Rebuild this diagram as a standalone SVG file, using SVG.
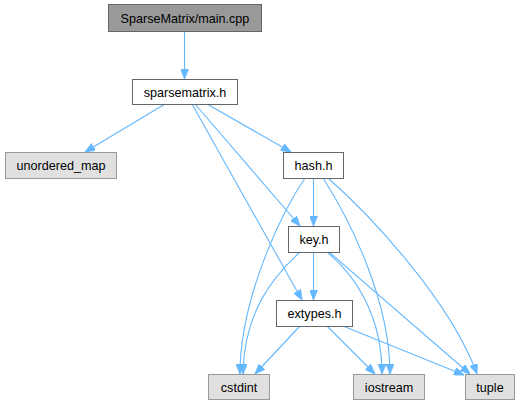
<svg xmlns="http://www.w3.org/2000/svg" width="520" height="405" viewBox="0 0 520 405">
<style>
.n rect{fill:#fff;stroke:#666;stroke-width:1}
.n.main rect{fill:#999;stroke:#666}
.n.ext rect{fill:#e0e0e0;stroke:#999}
.n text{font-family:"Liberation Sans",Arial,sans-serif;font-size:12.6px;fill:#000;text-anchor:middle}
.e path{fill:none;stroke:#63b8ff;stroke-width:1.1}
</style>
<defs>
<marker id="a" viewBox="0 0 10 8" refX="10" refY="4" markerWidth="10" markerHeight="8" markerUnits="userSpaceOnUse" orient="auto">
<path d="M0,0 L10,4 L0,8 Z" fill="#63b8ff" stroke="#63b8ff" stroke-width="0.8"/>
</marker>
</defs>
<rect width="520" height="405" fill="#fff"/>
<g id="connectors" class="e">
<path d="M184.5,31 L184.5,79" marker-end="url(#a)"/>
<path d="M165,104 L85,152" marker-end="url(#a)"/>
<path d="M207,104 L291,152" marker-end="url(#a)"/>
<path d="M195,104 L300,226" marker-end="url(#a)"/>
<path d="M192,104 L302,300" marker-end="url(#a)"/>
<path d="M313.5,178 L313.5,226" marker-end="url(#a)"/>
<path d="M305,178 C280,215 240,300 240,374" marker-end="url(#a)"/>
<path d="M323,178 C350,220 390,300 390,374" marker-end="url(#a)"/>
<path d="M328,178 C370,215 450,300 477,374" marker-end="url(#a)"/>
<path d="M313.5,252 L313.5,300" marker-end="url(#a)"/>
<path d="M300,252 C275,275 244,310 243,374" marker-end="url(#a)"/>
<path d="M327,252 C355,275 382,315 382,374" marker-end="url(#a)"/>
<path d="M329,252 L470,374" marker-end="url(#a)"/>
<path d="M300,326 L255,374" marker-end="url(#a)"/>
<path d="M327,326 L375,374" marker-end="url(#a)"/>
<path d="M343,326 L464,375" marker-end="url(#a)"/>
</g>
<g id="main" class="n main"><rect x="108.5" y="4.5" width="153" height="27"/><text x="185" y="22.5">SparseMatrix/main.cpp</text></g>
<g id="sparsematrix" class="n"><rect x="132.5" y="79.5" width="105" height="25"/><text x="185" y="96.5">sparsematrix.h</text></g>
<g id="unordered_map" class="n ext"><rect x="5.5" y="152.5" width="111" height="26"/><text x="61" y="170">unordered_map</text></g>
<g id="hash" class="n"><rect x="283.5" y="152.5" width="60" height="26"/><text x="313.5" y="170">hash.h</text></g>
<g id="key" class="n"><rect x="288.5" y="226.5" width="51" height="26"/><text x="314" y="244">key.h</text></g>
<g id="extypes" class="n"><rect x="276.5" y="300.5" width="76" height="26"/><text x="314.5" y="318">extypes.h</text></g>
<g id="cstdint" class="n ext"><rect x="208.5" y="374.5" width="61" height="25"/><text x="239" y="391.5">cstdint</text></g>
<g id="iostream" class="n ext"><rect x="353.5" y="374.5" width="71" height="25"/><text x="389" y="391.5">iostream</text></g>
<g id="tuple" class="n ext"><rect x="465.5" y="374.5" width="49" height="25"/><text x="490" y="391.5">tuple</text></g>
</svg>
